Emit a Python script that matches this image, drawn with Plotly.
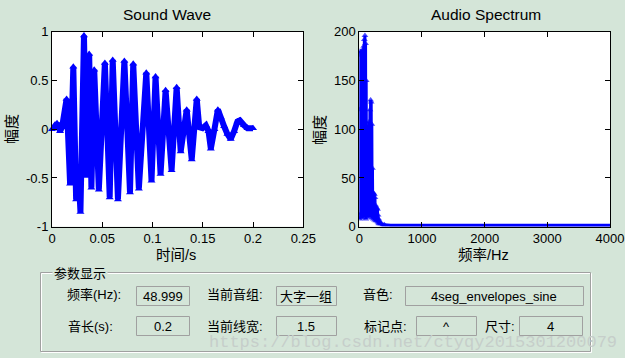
import plotly.graph_objects as go

W, H = 625, 358
BG = "rgb(212,229,216)"
BLUE = "#0000ff"

# ---------------- data ----------------
wave_t = [0.000, 0.002, 0.005, 0.008, 0.010, 0.0145, 0.0180, 0.0212, 0.0240, 0.0262,
          0.0283, 0.0318, 0.0345, 0.0370, 0.0392, 0.0420, 0.0466, 0.0526, 0.0574, 0.0604,
          0.0656, 0.0720, 0.0776, 0.0808, 0.0864, 0.0938, 0.0990, 0.1030, 0.1080, 0.1130,
          0.1190, 0.1240, 0.1280, 0.1340, 0.1390, 0.1440, 0.1465, 0.1497, 0.1530, 0.1557,
          0.1580, 0.1616, 0.1650, 0.1680, 0.1712, 0.1745, 0.1778, 0.1812, 0.1845, 0.1868,
          0.1910, 0.1945, 0.2000]
wave_amp = [0.00, 0.02, 0.06, -0.02, 0.02, 0.31, -0.56, 0.64, -0.72, -0.42,
            -0.85, 0.96, -0.48, 0.77, -0.60, 0.61, -0.62, 0.68, -0.70, 0.71,
            -0.72, 0.70, -0.65, 0.67, -0.61, 0.58, -0.53, 0.54, -0.46, 0.40,
            -0.42, 0.43, -0.23, 0.20, -0.31, 0.31, 0.02, 0.01, 0.04, -0.02,
            -0.20, 0.00, 0.20, 0.12, 0.03, -0.05, -0.10, -0.02, 0.08, 0.09,
            0.04, 0.01, 0.01]

spec_f = [0, 5, 10, 15, 20, 25, 30, 35, 40, 45, 50, 55, 60, 65, 70, 75, 80, 85, 90, 95,
          100, 105, 110, 115, 120, 125, 130, 135, 140, 145, 150, 155, 160, 165, 170, 175,
          180, 185, 190, 195, 200, 205, 210, 215, 220, 225, 230, 235, 240, 245, 250, 255,
          260, 265, 270, 275, 280, 285, 290, 295, 300, 305, 310, 315, 320, 330, 340, 350,
          375, 400, 500, 1000, 2000, 3000, 4000]
spec_mag = [120, 8, 180, 12, 178, 10, 180, 14, 176, 9, 181, 16, 180, 12, 185, 10, 192, 15, 196, 14,
            188, 8, 150, 14, 88, 10, 86, 20, 84, 12, 90, 18, 108, 10, 120, 15,
            130, 12, 128, 20, 105, 9, 60, 14, 35, 8, 34, 10, 33, 7, 30, 9,
            22, 6, 20, 8, 19, 6, 18, 5, 12, 4, 8, 3, 6, 4, 3, 3,
            2, 2, 1.5, 1.5, 1.5, 1.5, 1.5]

wave_xticks = [0, 0.05, 0.1, 0.15, 0.2, 0.25]
wave_xticktext = ["0", "0.05", "0.1", "0.15", "0.2", "0.25"]
wave_yticks = [-1, -0.5, 0, 0.5, 1]
wave_yticktext = ["-1", "-0.5", "0", "0.5", "1"]
spec_xticks = [0, 1000, 2000, 3000, 4000]
spec_xticktext = ["0", "1000", "2000", "3000", "4000"]
spec_yticks = [0, 50, 100, 150, 200]
spec_yticktext = ["0", "50", "100", "150", "200"]

titles = ["Sound Wave", "Audio Spectrum"]
x_titles = ["时间/s", "频率/Hz"]
y_title = "幅度"

panel_title = "参数显示"
param_labels = ["频率(Hz):", "当前音组:", "音色:", "音长(s):", "当前线宽:", "标记点:", "尺寸:"]
param_values = ["48.999", "大字一组", "4seg_envelopes_sine", "0.2", "1.5", "^", "4"]
watermark = "https://blog.csdn.net/ctyqy2015301200079"

# ---------------- layout helpers ----------------
def px(x):
    return x / W

def py(y):
    return 1 - y / H

FONT = "Liberation Sans, Arial, Noto Sans CJK SC, sans-serif"

fig = go.Figure()

fig.add_trace(go.Scatter(
    x=wave_t, y=wave_amp, mode="lines+markers",
    line=dict(color=BLUE, width=6, simplify=False),
    marker=dict(symbol="triangle-up", size=7, color=BLUE, line=dict(width=0)),
    xaxis="x", yaxis="y", showlegend=False, cliponaxis=False,
))
fig.add_trace(go.Scatter(
    x=spec_f, y=spec_mag, mode="lines+markers",
    line=dict(color=BLUE, width=3, simplify=False),
    marker=dict(symbol="triangle-up", size=[6 if f <= 400 else 0 for f in spec_f],
                color=BLUE, line=dict(width=0, color=BLUE)),
    xaxis="x2", yaxis="y2", showlegend=False,
))

axis_common = dict(
    showgrid=False, zeroline=False, showline=True, linecolor="black", linewidth=1,
    mirror="ticks", ticks="inside", ticklen=5, tickcolor="black", tickwidth=1,
    tickfont=dict(family=FONT, size=13, color="black"), tickmode="array",
    automargin=False,
)

y0, y1 = py(226.7), py(31.7)
fig.update_layout(
    width=W, height=H, autosize=False,
    margin=dict(l=0, r=0, t=0, b=0, pad=0, autoexpand=False),
    paper_bgcolor=BG, plot_bgcolor="white",
    xaxis=dict(domain=[px(52), px(303.3)], range=[0, 0.25], anchor="y",
               tickvals=wave_xticks, ticktext=wave_xticktext, **axis_common),
    yaxis=dict(domain=[y0, y1], range=[-1, 1], anchor="x",
               tickvals=wave_yticks, ticktext=wave_yticktext, **axis_common),
    xaxis2=dict(domain=[px(359.3), px(610)], range=[0, 4000], anchor="y2",
                tickvals=spec_xticks, ticktext=spec_xticktext, **axis_common),
    yaxis2=dict(domain=[y0, y1], range=[0, 200], anchor="x2",
                tickvals=spec_yticks, ticktext=spec_yticktext, **axis_common),
)

ann = []
def text(t, x, y, size=13, angle=0, family=FONT, color="black", bg=None, xanchor="center"):
    d = dict(text=t, x=px(x), y=py(y), xref="paper", yref="paper", showarrow=False,
             xanchor=xanchor, yanchor="middle", textangle=angle,
             font=dict(family=family, size=size, color=color))
    if bg:
        d["bgcolor"] = bg
    ann.append(d)

# titles and axis labels
text(titles[0], 167, 14, size=15.5)
text(titles[1], 486, 14, size=15.5)
text(x_titles[0], 176, 254.5, size=14.5)
text(x_titles[1], 483, 254.5, size=14.5)
text(y_title, 11, 129, size=15, angle=-90)
text(y_title, 319, 130, size=15, angle=-90)

shapes = []
def rect(x0, y0_, x1, y1_, color, width=1):
    shapes.append(dict(type="rect", xref="paper", yref="paper",
                       x0=px(x0), y0=py(y1_), x1=px(x1), y1=py(y0_),
                       line=dict(color=color, width=width), fillcolor="rgba(0,0,0,0)"))

# etched panel border
rect(41.5, 273.5, 591.5, 352.5, "white")
rect(40.5, 272.5, 590.5, 351.5, "rgb(160,160,160)")

# watermark (behind the panel text)
text(watermark, 413, 342, size=17, family="Liberation Mono, DejaVu Sans Mono, monospace",
     color="rgb(198,206,202)")

text(panel_title, 80, 273, size=13, bg=BG)

label_pos = [(94, 294), (235, 294), (378, 294), (90, 326), (235, 326), (385, 326), (500, 326)]
box_pos = [(136, 286.5, 189, 305.5), (276, 286.5, 336, 305.5), (405, 286.5, 583, 305.5),
           (136, 316.5, 189, 335.5), (276, 316.5, 336, 335.5), (416, 316.5, 476, 335.5),
           (519, 316.5, 582, 335.5)]

for lab, (lx, ly) in zip(param_labels, label_pos):
    text(lab, lx, ly, size=13)
for val, (bx0, by0, bx1, by1) in zip(param_values, box_pos):
    rect(bx0 + 0.5, by0, bx1 + 0.5, by1, "rgb(160,160,160)")
    text(val, (bx0 + bx1) / 2, (by0 + by1) / 2 + 0.5, size=13)

fig.update_layout(annotations=ann, shapes=shapes)
fig.write_html(
    "out.html",
    config={"displayModeBar": False},
    post_script="document.body.style.margin='0';document.body.style.padding='0';"
                "document.body.style.overflow='hidden';",
)
